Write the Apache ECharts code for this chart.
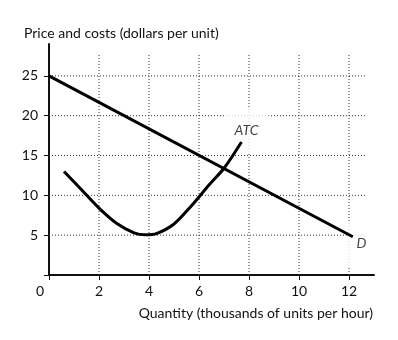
<!DOCTYPE html>
<html><head><meta charset="utf-8">
<script src="https://cdn.jsdelivr.net/npm/echarts@6/dist/echarts.min.js"></script>
<style>html,body{margin:0;padding:0;background:#fff}#c{width:398px;height:340px}</style>
</head><body><div id="c"></div>
<script>
var FONT = 'Lato';
var yTitle = 'Price and costs (dollars per unit)';
var xTitle = 'Quantity (thousands of units per hour)';
var xTicks = [0, 2, 4, 6, 8, 10, 12];
var yTicks = [5, 10, 15, 20, 25];
var demand = [[0, 25], [12.15, 4.8]];
var atc = [[0.6, 13.0], [1.3, 10.7], [2.0, 8.4], [2.7, 6.5], [3.4, 5.3], [3.85, 5.05], [4.3, 5.2], [5.0, 6.4], [5.7, 8.7], [6.4, 11.3], [7.0, 13.4], [7.7, 16.7]];
var labels = [{name: 'ATC', value: [7.9, 18.2]}, {name: 'D', value: [12.5, 3.9]}];
var gridTopY = 27.7, gridRightX = 12.72;

var gridSeries = [];
xTicks.slice(1).forEach(function (x) {
  gridSeries.push({type: 'line', data: [[x, 0], [x, gridTopY]], symbol: 'none', silent: true, z: 1,
    lineStyle: {color: '#333', width: 1, type: [1, 2]}});
});
yTicks.forEach(function (y) {
  gridSeries.push({type: 'line', data: [[0, y], [gridRightX, y]], symbol: 'none', silent: true, z: 1,
    lineStyle: {color: '#333', width: 1, type: [1, 2]}});
});

var chart = echarts.init(document.getElementById('c'), null, {renderer: 'canvas'});
chart.setOption({
  animation: false,
  title: [
    {text: yTitle, left: 19, top: 21, textStyle: {fontFamily: FONT, fontSize: 14, fontWeight: 'normal', color: '#111'}},
    {text: xTitle, right: 20, top: 301, textStyle: {fontFamily: FONT, fontSize: 14, fontWeight: 'normal', color: '#111'}}
  ],
  grid: {left: 49, right: 24, top: 44, bottom: 65, containLabel: false},
  xAxis: {
    type: 'value', min: 0, max: 13, interval: 2,
    axisLine: {lineStyle: {color: '#111', width: 2}},
    axisTick: {length: 5, lineStyle: {color: '#111', width: 1}},
    splitLine: {show: false},
    axisLabel: {
      margin: 9, fontFamily: FONT, fontSize: 14, color: '#111', showMaxLabel: false,
      formatter: function (v) { return v === 0 ? '{z|0}' : String(v); },
      rich: {z: {fontFamily: FONT, fontSize: 14, color: '#111', padding: [0, 18, 0, 0]}}
    }
  },
  yAxis: {
    type: 'value', min: 0, max: 29, interval: 5,
    axisLine: {show: true, lineStyle: {color: '#111', width: 2}},
    axisTick: {show: true, length: 5, lineStyle: {color: '#111', width: 1}},
    splitLine: {show: false},
    axisLabel: {
      margin: 11, fontFamily: FONT, fontSize: 14, color: '#111', showMaxLabel: false,
      formatter: function (v) { return v === 0 ? '' : String(v); }
    }
  },
  series: gridSeries.concat([
    {type: 'line', data: demand, symbol: 'none', z: 5, lineStyle: {color: '#000', width: 3}},
    {type: 'line', data: atc, symbol: 'none', smooth: 0.3, z: 5, lineStyle: {color: '#000', width: 3}},
    {type: 'scatter', data: labels, symbolSize: 0, z: 3, silent: true,
      label: {show: true, position: 'inside', formatter: '{b}', fontFamily: FONT, fontStyle: 'italic',
        fontSize: 14, color: '#111', backgroundColor: '#fff', padding: [16, 10]}}
  ])
});
</script></body></html>
